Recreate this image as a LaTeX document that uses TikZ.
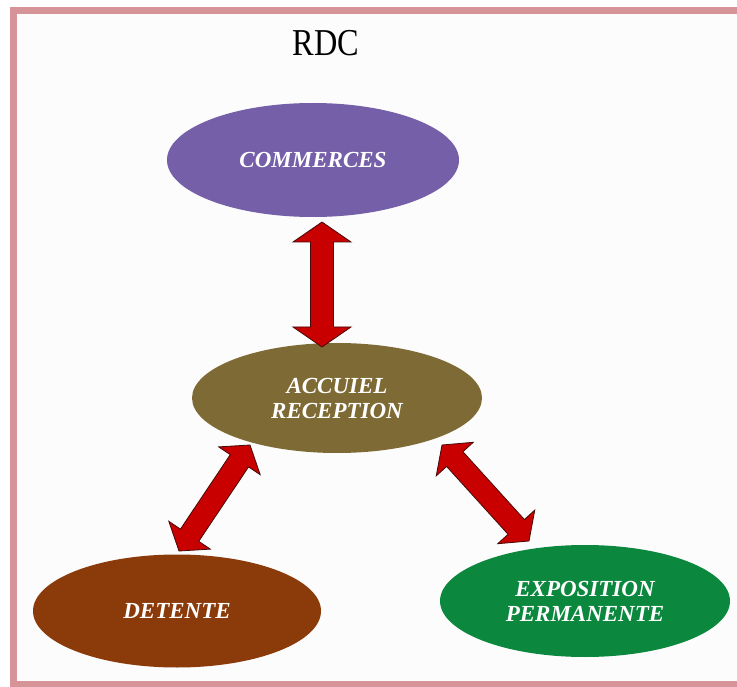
\documentclass[tikz,border=0pt]{standalone}
\usepackage{fontspec}
\setmainfont{Liberation Serif}
\usetikzlibrary{shapes.geometric,calc}
\definecolor{framepink}{RGB}{214,148,152}
\definecolor{purp}{RGB}{116,95,168}
\definecolor{olive}{RGB}{126,106,52}
\definecolor{brun}{RGB}{139,58,10}
\definecolor{vert}{RGB}{12,136,62}
\definecolor{arrred}{RGB}{200,0,0}
\definecolor{arrdark}{RGB}{70,10,10}
\newcommand\dblarr[5]{%
  \coordinate (p1) at ($(#1)!#3!(#2)$);
  \coordinate (p2) at ($(#2)!#3!(#1)$);
  \filldraw[arrowbody] (#1)
    -- ($(p1)!#4!90:(#2)$) -- ($(p1)!#5!90:(#2)$)
    -- ($(p2)!#5!-90:(#1)$) -- ($(p2)!#4!-90:(#1)$)
    -- (#2)
    -- ($(p2)!#4!90:(#1)$) -- ($(p2)!#5!90:(#1)$)
    -- ($(p1)!#5!-90:(#2)$) -- ($(p1)!#4!-90:(#2)$)
    -- cycle;}
\begin{document}
\begin{tikzpicture}[x=1pt,y=-1pt,
  blob/.style={ellipse, inner sep=0pt, text=white, align=center,
    font=\bfseries\itshape\fontsize{23}{25}\selectfont},
  arrowbody/.style={fill=arrred, draw=arrdark, line width=0.8pt, line join=miter}]
\useasboundingbox (0,0) rectangle (737,687);
\fill[white] (0,0) rectangle (737,687);
\fill[black!1] (13.5,10.5) rectangle (745,684.5);
\draw[framepink, line width=7pt] (13.5,10.5) rectangle (745,684.5);

\node[font=\fontsize{38}{40}\selectfont, xscale=0.85] (title) at (326,43) {RDC};

\node[blob, fill=purp, minimum width=292pt, minimum height=114pt] (com) at (313,160) {COMMERCES};
\node[blob, fill=olive, minimum width=290pt, minimum height=110pt] (acc) at (337,398) {ACCUIEL\\RECEPTION};
\node[blob, fill=brun, minimum width=288pt, minimum height=113pt] (det) at (177,611) {DETENTE};
\node[blob, fill=vert, minimum width=290pt, minimum height=112pt] (expo) at (585,601) {EXPOSITION\\PERMANENTE};

\coordinate (a1) at (322,222);
\coordinate (a2) at (322,347);
\coordinate (b1) at (250,445);
\coordinate (b2) at (179,551);
\coordinate (c1) at (442,445);
\coordinate (c2) at (529,541);

\dblarr{a1}{a2}{20pt}{29pt}{11.5pt}
\dblarr{b1}{b2}{19pt}{25pt}{11pt}
\dblarr{c1}{c2}{19pt}{25pt}{11pt}
\end{tikzpicture}
\end{document}
